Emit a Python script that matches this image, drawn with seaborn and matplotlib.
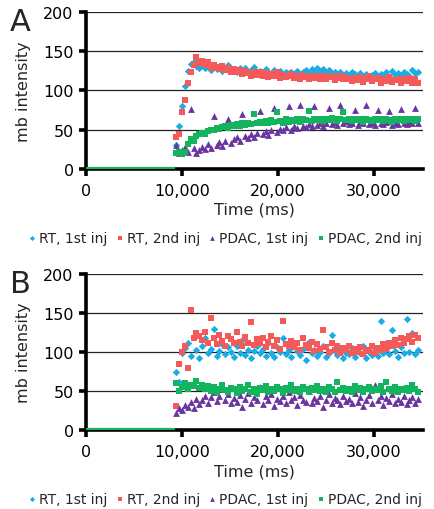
import matplotlib
matplotlib.use("Agg")
import matplotlib.pyplot as plt
import numpy as np
import pandas as pd
import seaborn as sns

# sample times after injection (ms), every 300 ms
t = np.arange(9400, 34601, 300)
baseline_t = [0, 9300]
baseline_y = [0, 0]

labels = ["RT, 1st inj", "RT, 2nd inj", "PDAC, 1st inj", "PDAC, 2nd inj"]

# Panel A
a_rt1 = [30, 55, 80, 105, 125, 134, 136, 131, 129, 133,
         128, 130, 126, 131, 127, 129, 125, 128, 132, 126,
         127, 124, 129, 125, 128, 123, 126, 130, 124, 125,
         122, 127, 124, 121, 126, 123, 125, 120, 124, 122,
         123, 121, 125, 119, 123, 126, 122, 127, 124, 128,
         125, 127, 123, 126, 122, 124, 121, 123, 119, 122,
         120, 123, 121, 118, 122, 119, 121, 117, 120, 122,
         118, 121, 119, 123, 117, 125, 120, 122, 118, 124,
         121, 119, 126, 122, 124]
a_rt2 = [40, 45, 72, 88, 110, 124, 132, 142, 135, 138,
         132, 136, 128, 133, 130, 127, 131, 126, 129, 124,
         127, 123, 126, 121, 125, 122, 119, 124, 120, 123,
         119, 122, 117, 121, 118, 123, 116, 120, 117, 119,
         121, 116, 119, 115, 120, 117, 114, 118, 116, 119,
         115, 118, 114, 117, 119, 113, 116, 118, 114, 117,
         115, 112, 116, 113, 117, 111, 115, 118, 112, 114,
         116, 110, 114, 112, 117, 111, 113, 115, 110, 114,
         112, 116, 109, 114, 110]
a_pdac1 = [30, 20, 24, 28, 22, 76, 26, 20, 24, 28,
           25, 32, 27, 68, 30, 34, 29, 36, 64, 33,
           38, 41, 36, 70, 42, 39, 44, 40, 46, 74,
           45, 48, 43, 50, 78, 47, 51, 49, 53, 80,
           50, 54, 52, 82, 55, 53, 57, 54, 80, 56,
           58, 55, 59, 78, 57, 60, 56, 82, 58, 61,
           57, 59, 75, 56, 60, 58, 82, 57, 59, 56,
           75, 58, 57, 60, 74, 56, 59, 57, 76, 58,
           57, 60, 58, 78, 59]
a_pdac2 = [20, 21, 19, 22, 32, 38, 36, 42, 44, 46,
           45, 48, 50, 49, 52, 51, 53, 55, 52, 56,
           55, 57, 54, 58, 56, 59, 57, 70, 58, 60,
           59, 61, 58, 62, 60, 72, 61, 59, 63, 60,
           62, 61, 64, 60, 63, 62, 74, 61, 63, 62,
           64, 61, 63, 62, 65, 63, 61, 64, 72, 62,
           63, 61, 64, 62, 63, 60, 64, 62, 61, 63,
           62, 64, 61, 63, 62, 60, 64, 62, 63, 61,
           63, 62, 64, 61, 63]

# Panel B
b_rt1 = [74, 62, 98, 105, 112, 95, 120, 102, 92, 108,
         118, 98, 104, 130, 95, 101, 110, 97, 106, 100,
         93, 108, 99, 115, 96, 103, 92, 101, 107, 98,
         104, 95, 112, 99, 93, 106, 100, 118, 97, 102,
         94, 109, 101, 96, 104, 90, 113, 99, 103, 95,
         100, 107, 93, 98, 122, 101, 96, 104, 92, 99,
         97, 105, 94, 101, 98, 107, 92, 100, 96, 103,
         95, 140, 99, 104, 97, 128, 101, 94, 106, 98,
         142, 100, 124, 97, 103]
b_rt2 = [31, 85, 100, 108, 80, 154, 118, 124, 120, 115,
         126, 112, 144, 118, 110, 122, 114, 108, 120, 116,
         111, 125, 113, 107, 119, 112, 138, 109, 116, 111,
         118, 106, 113, 121, 108, 115, 104, 140, 110, 107,
         114, 106, 112, 103, 118, 109, 105, 113, 101, 110,
         104, 128, 106, 100, 111, 103, 108, 99, 105, 102,
         107, 98, 104, 100, 106, 97, 103, 101, 108, 99,
         105, 102, 110, 104, 112, 107, 115, 109, 118, 112,
         116, 120, 113, 122, 118]
b_pdac1 = [22, 28, 25, 32, 30, 36, 28, 40, 33, 38,
           44, 35, 42, 48, 37, 43, 52, 39, 46, 34,
           41, 36, 45, 30, 40, 47, 35, 42, 38, 55,
           33, 43, 39, 46, 31, 40, 37, 44, 35, 48,
           38, 42, 32, 45, 39, 36, 50, 34, 41, 37,
           43, 30, 39, 46, 35, 41, 38, 33, 44, 37,
           40, 34, 47, 36, 42, 31, 39, 45, 35, 58,
           38, 43, 32, 41, 37, 46, 34, 40, 36, 44,
           33, 39, 42, 35, 40]
b_pdac2 = [60, 50, 55, 60, 52, 58, 56, 63, 54, 57,
           52, 56, 50, 55, 48, 53, 57, 51, 49, 54,
           52, 47, 55, 50, 53, 58, 49, 52, 46, 54,
           51, 56, 48, 53, 50, 55, 52, 47, 54, 51,
           58, 50, 53, 49, 55, 52, 48, 54, 51, 56,
           50, 53, 49, 55, 52, 48, 62, 51, 54, 50,
           53, 49, 56, 51, 54, 48, 52, 55, 50, 53,
           51, 56, 49, 62, 52, 50, 55, 48, 53, 51,
           54, 50, 57, 52, 49]

colors = ["#1aace4", "#f55a5a", "#6a35a0", "#14b45e"]
markers = ["D", "s", "^", "s"]
sizes = [14, 24, 24, 18]

sns.set_style("white")
plt.rcParams["font.family"] = ["DejaVu Sans"]

fig = plt.figure(figsize=(4.35, 5.1), dpi=100)
ax_a = fig.add_axes([0.198, 0.667, 0.774, 0.3075])
ax_b = fig.add_axes([0.198, 0.155, 0.774, 0.306])


def draw_panel(ax, series, letter):
    for vals, lab, c, m, s in zip(series, labels, colors, markers, sizes):
        df = pd.DataFrame({"t": t, "v": vals})
        sns.scatterplot(data=df, x="t", y="v", ax=ax, color=c, marker=m, s=s,
                        linewidth=0, label=lab, zorder=3)
    ax.plot(baseline_t, baseline_y, color=colors[3], lw=3, zorder=4, solid_capstyle="butt")
    ax.set_xlim(0, 35100)
    ax.set_ylim(0, 200)
    ax.set_yticks([0, 50, 100, 150, 200])
    ax.set_xticks([0, 10000, 20000, 30000])
    ax.set_xticklabels(["0", "10,000", "20,000", "30,000"])
    ax.yaxis.grid(True, color="#222222", lw=0.9)
    ax.set_axisbelow(True)
    for side in ["top", "right"]:
        ax.spines[side].set_visible(False)
    for side in ["left", "bottom"]:
        ax.spines[side].set_linewidth(2.6)
        ax.spines[side].set_color("black")
    ax.tick_params(axis="both", direction="out", length=5, width=2.6, labelsize=11.5,
                   colors="black", left=True, bottom=True)
    ax.tick_params(axis="x", pad=5)
    ax.tick_params(axis="y", pad=4)
    ax.set_xlabel("Time (ms)", fontsize=11.5, labelpad=3)
    ax.set_ylabel("mb intensity", fontsize=11.5, labelpad=9)
    ax.legend(loc="center", bbox_to_anchor=(0.41, -0.44), ncol=4, frameon=False,
              fontsize=10, handletextpad=0.1, columnspacing=0.5, handlelength=0.8,
              markerscale=0.7)
    ax.text(-0.196, 0.94, letter, transform=ax.transAxes, fontsize=22,
            ha="center", va="center")


draw_panel(ax_a, [a_rt1, a_rt2, a_pdac1, a_pdac2], "A")
draw_panel(ax_b, [b_rt1, b_rt2, b_pdac1, b_pdac2], "B")

fig.savefig("out.png", dpi=100)
